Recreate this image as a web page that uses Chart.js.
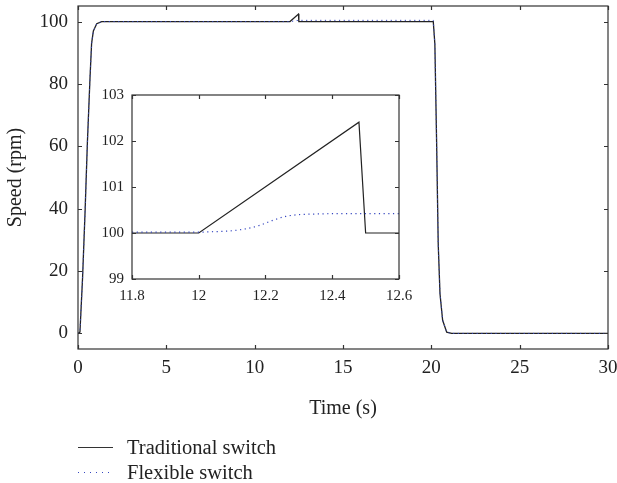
<!DOCTYPE html>
<html>
<head>
<meta charset="utf-8">
<script src="https://cdn.jsdelivr.net/npm/chart.js@4.4.1/dist/chart.umd.min.js"></script>
<style>
  body { margin: 0; background: #fff; }
  #wrap { position: relative; width: 617px; height: 483px; }
  #inset { position: absolute; left: 90px; top: 85px; }
  #legend { position: absolute; left: 78px; top: 435px; font: 20.5px "Liberation Serif", serif; color: #222; }
  .row { display: flex; align-items: center; height: 25px; }
  .sample { width: 35px; height: 2px; margin-right: 14px; }
  .solid { background: #333; height: 1.5px; }
  .dotted { background: repeating-linear-gradient(to right, #3546c0 0 1.5px, transparent 1.5px 6px); height: 1.5px; }
</style>
</head>
<body>
<div id="wrap">
  <canvas id="main" width="617" height="483"></canvas>
  <canvas id="inset" width="330" height="225"></canvas>
  <div id="legend">
    <div class="row"><span class="sample solid"></span>Traditional switch</div>
    <div class="row"><span class="sample dotted"></span>Flexible switch</div>
  </div>
</div>
<script>
// main plot: time (s) and speed (rpm)
const mainTime = [0, 0.11, 0.26, 0.40, 0.53, 0.68, 0.77, 0.87, 1.06, 1.34, 12.0, 12.48, 12.5, 20.11, 20.2, 20.3, 20.39, 20.49, 20.64, 20.87, 21.15, 30];
const mainTraditional = [0, 0.4, 18, 39, 61, 82, 93, 97, 99.3, 100, 100, 102.4, 100, 100, 92.8, 60.8, 28.7, 12.7, 4.2, 0.4, 0, 0];
const mainFlexible = [0, 0.4, 18, 39, 61, 82, 93, 97, 99.3, 100, 100, 100.4, 100.4, 100.4, 92.8, 60.8, 28.7, 12.7, 4.2, 0.4, 0, 0];
const mainXTicks = [0, 5, 10, 15, 20, 25, 30];
const mainYTicks = [0, 20, 40, 60, 80, 100];

// zoomed view around the switching moment
const zoomTradTime = [11.8, 12.0, 12.48, 12.5, 12.6];
const zoomTraditional = [100, 100, 102.41, 100, 100];
const zoomFlexTime = [11.8, 12.0, 12.05, 12.10, 12.14, 12.18, 12.22, 12.26, 12.30, 12.34, 12.40, 12.6];
const zoomFlexible = [100.02, 100.02, 100.03, 100.05, 100.09, 100.16, 100.27, 100.36, 100.40, 100.41, 100.42, 100.42];
const zoomXTicks = [11.8, 12, 12.2, 12.4, 12.6];
const zoomYTicks = [99, 100, 101, 102, 103];

const serif = '"Liberation Serif", serif';
const black = '#222';
const blue = '#3546c0';

function pts(xs, ys) {
  return xs.map((x, i) => ({ x: x, y: ys[i] }));
}

// box round the plot area with small ticks pointing inwards on all four sides
const frameTicks = {
  id: 'frameTicks',
  afterDatasetsDraw(chart, args, opts) {
    const { ctx, chartArea: a, scales: { x, y } } = chart;
    const len = opts.len || 4;
    ctx.save();
    ctx.strokeStyle = '#333';
    ctx.lineWidth = 1.2;
    ctx.strokeRect(a.left, a.top, a.right - a.left, a.bottom - a.top);
    ctx.beginPath();
    x.ticks.forEach(t => {
      const px = Math.round(x.getPixelForValue(t.value)) + 0.5;
      ctx.moveTo(px, a.bottom); ctx.lineTo(px, a.bottom - len);
      ctx.moveTo(px, a.top); ctx.lineTo(px, a.top + len);
    });
    y.ticks.forEach(t => {
      const py = Math.round(y.getPixelForValue(t.value)) + 0.5;
      ctx.moveTo(a.left, py); ctx.lineTo(a.left + len, py);
      ctx.moveTo(a.right, py); ctx.lineTo(a.right - len, py);
    });
    ctx.stroke();
    ctx.restore();
  }
};

// fixed axis size, and no extra room for labels at the ends
function fixX(h) {
  return s => { s.height = h; s.paddingLeft = 0; s.paddingRight = 0; };
}
function fixY(w) {
  return s => { s.width = w; s.paddingTop = 0; s.paddingBottom = 0; };
}

function axis(min, max, ticks, size, pad, fit, title) {
  return {
    type: 'linear',
    min: min,
    max: max,
    grid: { display: false },
    border: { display: false },
    afterBuildTicks: s => { s.ticks = ticks.map(v => ({ value: v })); },
    afterFit: fit,
    ticks: {
      color: black,
      padding: pad,
      maxRotation: 0,
      font: { family: serif, size: size },
      callback: v => String(v)
    },
    title: title ? { display: true, text: title, color: black, font: { family: serif, size: 20 } } : { display: false }
  };
}

new Chart(document.getElementById('main'), {
  type: 'line',
  data: {
    datasets: [
      {
        label: 'Flexible switch',
        data: pts(mainTime, mainFlexible),
        borderColor: blue,
        borderWidth: 1,
        borderDash: [1.2, 3.5],
        pointRadius: 0
      },
      {
        label: 'Traditional switch',
        data: pts(mainTime, mainTraditional),
        borderColor: black,
        borderWidth: 1.3,
        pointRadius: 0
      }
    ]
  },
  options: {
    responsive: false,
    animation: false,
    layout: { padding: { top: 6, right: 9, left: 0, bottom: 58 } },
    plugins: { legend: { display: false }, tooltip: { enabled: false }, frameTicks: { len: 4 } },
    scales: {
      x: axis(0, 30, mainXTicks, 19, 0, fixX(76), 'Time (s)'),
      y: axis(-5, 105, mainYTicks, 19, 2, fixY(78), 'Speed (rpm)')
    }
  },
  plugins: [frameTicks]
});

new Chart(document.getElementById('inset'), {
  type: 'line',
  data: {
    datasets: [
      {
        label: 'Flexible switch',
        data: pts(zoomFlexTime, zoomFlexible),
        borderColor: blue,
        borderWidth: 1.2,
        borderDash: [1.2, 3.5],
        cubicInterpolationMode: 'monotone',
        pointRadius: 0
      },
      {
        label: 'Traditional switch',
        data: pts(zoomTradTime, zoomTraditional),
        borderColor: black,
        borderWidth: 1.2,
        pointRadius: 0
      }
    ]
  },
  options: {
    responsive: false,
    animation: false,
    layout: { padding: { top: 10, right: 21, left: 0, bottom: 0 } },
    plugins: { legend: { display: false }, tooltip: { enabled: false }, frameTicks: { len: 4 } },
    scales: {
      x: axis(11.8, 12.6, zoomXTicks, 15, 0, fixX(31)),
      y: axis(99, 103, zoomYTicks, 15, 0, fixY(42))
    }
  },
  plugins: [frameTicks]
});
</script>
</body>
</html>
